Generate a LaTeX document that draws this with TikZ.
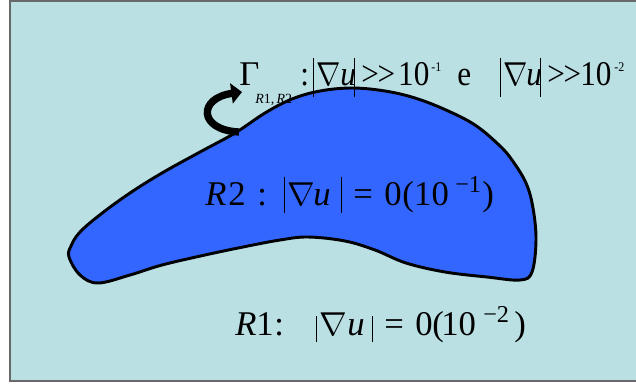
\documentclass[tikz,border=0pt]{standalone}
\usepackage{fontspec}
\setmainfont{Liberation Serif}
\newfontfamily\narrowserif[FakeStretch=0.9]{Liberation Serif}
\usetikzlibrary{arrows.meta}
\definecolor{bgcyan}{RGB}{186,224,228}
\definecolor{blobblue}{RGB}{51,102,255}
\definecolor{framegray}{RGB}{105,105,105}
\newcommand{\mybar}[2]{\rule[-#1pt]{0.6pt}{#2pt}}
% a piece of text in a box whose width is given in pixels
\newcommand{\cell}[2]{\makebox[\dimexpr#1pt*3/4\relax][l]{#2}}
\newcommand{\nab}{$\nabla$}
\newcommand{\nabn}{\scalebox{0.88}[1]{$\nabla$}}
\newcommand{\tinysup}[1]{\raisebox{10pt}{\fontsize{10}{11}\selectfont #1}}
\tikzset{
  lbl/.style={anchor=base west, inner sep=0pt, font=\fontsize{26}{31}\selectfont},
}
\begin{document}
\begin{tikzpicture}[x=0.75pt,y=-0.75pt]
\useasboundingbox (0,0) rectangle (636,383);
\fill[white] (0,0) rectangle (636,383);
\filldraw[fill=bgcyan, draw=framegray, line width=1.5pt] (10,1) rectangle (640,381);
% region R2
\filldraw[fill=blobblue, draw=black, line width=2.2pt]
  plot[smooth cycle, tension=0.6] coordinates {
  (69,257) (80,275) (98,283) (130,275) (162,265) (205,255) (243,247) (280,240) (308,237)
  (345,241) (375,250) (406,263) (445,272) (487,277) (520,280) (532,272)
  (536,240) (533,208) (526,183) (512,160) (499,145) (475,125) (446,110)
  (415,98) (385,91) (352,88) (320,91) (292,99) (265,113) (235,133)
  (200,152) (162,173) (130,193) (101,214) (80,232) (71,246)};
% arrow
\coordinate (atail) at (239,132);
\coordinate (ahead) at (242,92);
\draw[line width=5.5pt, -{Triangle[length=8pt,width=15pt]}]
  (atail) .. controls (198,130) and (198,98) .. (ahead);
% labels
\node[lbl] (gam) at (239,85) {Γ};
\node[anchor=base west, inner sep=0pt, font=\fontsize{10.5}{12}\selectfont] (gsub) at (255,103) {\textit{R}1,\,\textit{R}2};
\node[lbl, font=\fontsize{26}{31}\narrowserif] (cond) at (300,85)
  {\cell{13}{:}\cell{3}{\mybar{9}{29}}\cell{24}{\nabn}\cell{14}{\textit{u}}\cell{7}{\mybar{9}{29}}%
   \cell{37}{>\kern-1pt>}\cell{33}{10}\cell{26}{\tinysup{-1}}\cell{43}{e}%
   \cell{3}{\mybar{9}{29}}\cell{23}{\nabn}\cell{14}{\textit{u}}\cell{7}{\mybar{9}{29}}%
   \cell{33}{>\kern-1pt>}\cell{34}{10}\tinysup{-2}};
\node[lbl] (r2) at (205,205)
  {\cell{23}{\textit{R}}\cell{29}{2}\cell{27}{:}\cell{3}{\mybar{6}{27}}\cell{26}{\nab}%
   \cell{28}{\textit{u}}\cell{12}{\mybar{6}{27}}\cell{31}{=}\cell{18}{0}\cell{12}{(}%
   \cell{41}{10}\cell{27}{\textsuperscript{−1}})};
\node[lbl] (r1) at (235,335)
  {\cell{21}{\textit{R}}\cell{18}{1}\cell{42}{:}\cell{3}{\mybar{5}{19}}\cell{28}{\nab}%
   \cell{25}{\textit{u}}\cell{12}{\mybar{5}{19}}\cell{31}{=}\cell{17}{0}\cell{9}{(}%
   \cell{42}{10}\cell{31}{\textsuperscript{−2}})};
\end{tikzpicture}
\end{document}
